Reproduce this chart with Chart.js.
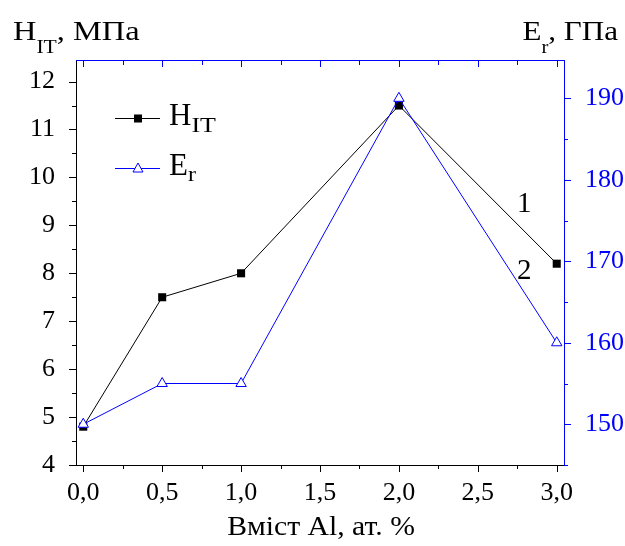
<!DOCTYPE html>
<html>
<head>
<meta charset="utf-8">
<script src="https://cdn.jsdelivr.net/npm/chart.js@4.4.0/dist/chart.umd.min.js"></script>
<style>
    html, body { margin: 0; padding: 0; background: #fff; }
</style>
</head>
<body>
<canvas id="chart" width="625" height="546"></canvas>
<script>
const alContent = [0, 0.5, 1.0, 2.0, 3.0]
const hardness = [4.8, 7.5, 8.0, 11.5, 8.2]
const modulus = [150, 155, 155, 190, 160]

const xTicks = [0, 0.5, 1.0, 1.5, 2.0, 2.5, 3.0]
const xMinorTicks = [0.25, 0.75, 1.25, 1.75, 2.25, 2.75]
const hTicks = [4, 5, 6, 7, 8, 9, 10, 11, 12]
const hMinorTicks = [4.5, 5.5, 6.5, 7.5, 8.5, 9.5, 10.5, 11.5, 12.5]
const eTicks = [150, 160, 170, 180, 190]
const eMinorTicks = [145, 155, 165, 175, 185]

const FONT = '"Liberation Serif", "Times New Roman", Times, serif'
const BLUE = '#0000ff'

// parts: [text, size, dy, hscale]
function drawSub(ctx, x, y, parts, align) {
    let total = 0
    parts.forEach(p => {
        ctx.font = p[1] + 'px ' + FONT
        total += ctx.measureText(p[0]).width * p[3]
    })
    let cx = align === 'right' ? x - total : align === 'center' ? x - total / 2 : x
    parts.forEach(p => {
        ctx.font = p[1] + 'px ' + FONT
        ctx.save()
        ctx.translate(cx, y + p[2])
        ctx.scale(p[3], 1)
        ctx.fillText(p[0], 0, 0)
        ctx.restore()
        cx += ctx.measureText(p[0]).width * p[3]
    })
}

const decorPlugin = {
    id: 'decor',
    afterDraw(chart) {
        const ctx = chart.ctx
        const area = chart.chartArea
        const xs = chart.scales.x
        const ys = chart.scales.y
        const ys1 = chart.scales.y1
        ctx.save()
        ctx.lineWidth = 1

        // bottom + left ticks, outward
        ctx.strokeStyle = '#000'
        ctx.beginPath()
        xTicks.forEach(v => {
            const px = Math.round(xs.getPixelForValue(v)) + 0.5
            ctx.moveTo(px, area.bottom); ctx.lineTo(px, area.bottom + 7)
        })
        xMinorTicks.forEach(v => {
            const px = Math.round(xs.getPixelForValue(v)) + 0.5
            ctx.moveTo(px, area.bottom); ctx.lineTo(px, area.bottom + 4)
        })
        hTicks.forEach(v => {
            const py = Math.round(ys.getPixelForValue(v)) + 0.5
            ctx.moveTo(area.left, py); ctx.lineTo(area.left - 7, py)
        })
        hMinorTicks.forEach(v => {
            const py = Math.round(ys.getPixelForValue(v)) + 0.5
            if (py < area.top) return
            ctx.moveTo(area.left, py); ctx.lineTo(area.left - 4, py)
        })
        ctx.stroke()

        // top axis (blue, inward) + right ticks
        ctx.strokeStyle = BLUE
        ctx.beginPath()
        ctx.moveTo(area.left, area.top + 0.5); ctx.lineTo(area.right, area.top + 0.5)
        xTicks.forEach(v => {
            const px = Math.round(xs.getPixelForValue(v)) + 0.5
            ctx.moveTo(px, area.top); ctx.lineTo(px, area.top + 7)
        })
        xMinorTicks.forEach(v => {
            const px = Math.round(xs.getPixelForValue(v)) + 0.5
            ctx.moveTo(px, area.top); ctx.lineTo(px, area.top + 5)
        })
        eTicks.forEach(v => {
            const py = Math.round(ys1.getPixelForValue(v)) + 0.5
            ctx.moveTo(area.right, py); ctx.lineTo(area.right + 7, py)
        })
        eMinorTicks.forEach(v => {
            const py = Math.round(ys1.getPixelForValue(v)) + 0.5
            ctx.moveTo(area.right, py); ctx.lineTo(area.right + 4, py)
        })
        ctx.stroke()

        // axis titles
        ctx.textBaseline = 'alphabetic'
        ctx.textAlign = 'left'
        ctx.fillStyle = '#000'
        drawSub(ctx, 13, 40, [['H', 27, 0, 1.2], ['IT', 18, 13, 1.2], [', МПа', 27, 0, 1.2]], 'left')
        drawSub(ctx, 618, 40, [['E', 27, 0, 1.15], ['r', 18, 13, 1.15], [', ГПа', 27, 0, 1.15]], 'right')
        drawSub(ctx, 321, 535, [['Вміст Al, ат. %', 27, 0, 1.1]], 'center')

        // curve numbers
        drawSub(ctx, 517, 212, [['1', 29, 0, 1]], 'left')
        drawSub(ctx, 517, 279, [['2', 29, 0, 1]], 'left')

        // legend
        const legend = [
            { y: 118, color: '#000', style: 'rect', text: [['H', 31, 7, 1.0], ['IT', 20, 14, 1.3]] },
            { y: 168, color: BLUE, style: 'triangle', text: [['E', 31, 7, 1.0], ['r', 20, 13, 1.2]] }
        ]
        legend.forEach(item => {
            ctx.strokeStyle = item.color
            ctx.lineWidth = 1
            ctx.beginPath()
            ctx.moveTo(115, item.y + 0.5); ctx.lineTo(160, item.y + 0.5)
            ctx.stroke()
            if (item.style === 'rect') {
                ctx.fillStyle = '#000'
                ctx.fillRect(134, item.y - 3.5, 8, 8)
            } else {
                ctx.beginPath()
                ctx.fillStyle = '#fff'
                ctx.moveTo(138, item.y - 5); ctx.lineTo(143, item.y + 4); ctx.lineTo(133, item.y + 4); ctx.closePath()
                ctx.fill()
                ctx.stroke()
            }
            ctx.fillStyle = '#000'
            drawSub(ctx, 169, item.y, item.text, 'left')
        })

        ctx.restore()
    }
}

const tickFont = { family: FONT, size: 26 }

new Chart(document.getElementById('chart'), {
    type: 'line',
    data: {
        datasets: [
            {
                label: 'E_r',
                data: alContent.map((x, i) => ({ x: x, y: modulus[i] })),
                yAxisID: 'y1',
                borderColor: BLUE,
                backgroundColor: '#fff',
                borderWidth: 1,
                pointStyle: 'triangle',
                pointRadius: 6,
                pointBorderWidth: 1,
                pointBorderColor: BLUE,
                pointBackgroundColor: '#fff',
                tension: 0,
            },
            {
                label: 'H_IT',
                data: alContent.map((x, i) => ({ x: x, y: hardness[i] })),
                yAxisID: 'y',
                borderColor: '#000',
                backgroundColor: '#000',
                borderWidth: 1,
                pointStyle: 'rect',
                pointRadius: 5.7,
                pointBorderWidth: 0,
                pointBackgroundColor: '#000',
                tension: 0,
            }
        ]
    },
    options: {
        responsive: false,
        animation: false,
        devicePixelRatio: 1,
        layout: { padding: { top: 60, left: 0, right: 0, bottom: 0 } },
        plugins: {
            legend: { display: false },
            tooltip: { enabled: false }
        },
        scales: {
            x: {
                type: 'linear',
                min: -0.046,
                max: 3.046,
                afterFit: (scale) => { scale.height = 81 },
                afterBuildTicks: (scale) => { scale.ticks = xTicks.map(v => ({ value: v })) },
                grid: { display: false },
                border: { display: true, color: '#000', width: 1 },
                ticks: {
                    color: '#000',
                    font: tickFont,
                    padding: 5,
                    maxRotation: 0,
                    callback: (v) => v.toFixed(1).replace('.', ',')
                }
            },
            y: {
                position: 'left',
                min: 4,
                max: 12.45,
                afterFit: (scale) => { scale.width = 76 },
                afterBuildTicks: (scale) => { scale.ticks = hTicks.map(v => ({ value: v })) },
                grid: { display: false },
                border: { display: true, color: '#000', width: 1 },
                ticks: { color: '#000', font: tickFont, padding: 13 }
            },
            y1: {
                position: 'right',
                min: 145,
                max: 194.7,
                afterFit: (scale) => { scale.width = 61 },
                afterBuildTicks: (scale) => { scale.ticks = eTicks.map(v => ({ value: v })) },
                grid: { display: false },
                border: { display: true, color: BLUE, width: 1 },
                ticks: { color: BLUE, font: tickFont, padding: 13 }
            }
        }
    },
    plugins: [decorPlugin]
})
</script>
</body>
</html>
